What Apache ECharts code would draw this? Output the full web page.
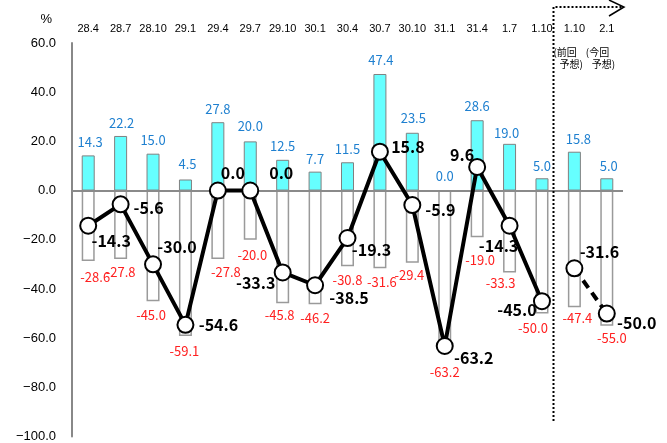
<!DOCTYPE html>
<html><head><meta charset="utf-8">
<script src="https://cdn.jsdelivr.net/npm/echarts@6/dist/echarts.min.js"></script>
<style>html,body{margin:0;padding:0;background:#fff}#c{width:667px;height:443px}</style>
</head><body><div id="c"></div>
<script>
// ---- data ----
const categories = ['28.4','28.7','28.10','29.1','29.4','29.7','29.10','30.1','30.4','30.7','30.10','31.1','31.4','1.7','1.10','1.10','2.1'];
const forecastNotes = [null,null,null,null,null,null,null,null,null,null,null,null,null,null,null,['(前回','予想)'],['(今回','予想)']];
const upValues = [14.3,22.2,15.0,4.5,27.8,20.0,12.5,7.7,11.5,47.4,23.5,0.0,28.6,19.0,5.0,15.8,5.0];
const downValues = [-28.6,-27.8,-45.0,-59.1,-27.8,-20.0,-45.8,-46.2,-30.8,-31.6,-29.4,-63.2,-19.0,-33.3,-50.0,-47.4,-55.0];
const diValues = [-14.3,-5.6,-30.0,-54.6,0.0,0.0,-33.3,-38.5,-19.3,15.8,-5.9,-63.2,9.6,-14.3,-45.0,null,null];
const diForecast = [null,null,null,null,null,null,null,null,null,null,null,null,null,null,null,-31.6,-50.0];
const yMin = -100, yMax = 60, yStep = 20;

// ---- label styling offsets (presentation only) ----
const upOff = [[2,0],[1,1],[0,0],[2,-2],[0,0],[0,-2],[0,0],[0,1],[0,0],[1,0],[1,-1],[0,-1],[0,-1],[-3,3],[0,1],[4,1],[2,1]];
const downOff = [[7,3],[0,0],[-2,0],[-1,2],[8,0],[2,2],[-3,-2],[0,0],[0,0],[2,0],[-3,-1],[0,13],[3,9],[-9,-3],[-9,1],[3,-3],[5,-1]];
const lineOff = [[23,15],[28,4],[24,-17],[33,0],[15,-18],[31,-18],[-27,10],[34,13],[24,12],[28,-5],[28,5],[29,12],[-15,-12],[-11,20],[-25,9],[25,-16],[30,9]];

const fmt = v => (v == null ? '' : Number(v).toFixed(1));
const dataFont = '"Noto Sans CJK JP", sans-serif';
const axisFont = '"Liberation Sans", Arial, sans-serif';

const chart = echarts.init(document.getElementById('c'), null, {renderer: 'canvas'});

const lineLabel = i => ({show: true, position: 'inside', align: 'center', verticalAlign: 'middle',
  offset: lineOff[i], color: '#000', fontWeight: 'bold', fontSize: 16, fontFamily: dataFont,
  formatter: p => fmt(p.value)});

const option = {
  animation: false,
  backgroundColor: '#fff',
  grid: {left: 72, right: 44, top: 43, bottom: 6, containLabel: false},
  xAxis: [{
    type: 'category', data: categories, position: 'top',
    axisLine: {show: false}, axisTick: {show: false}, splitLine: {show: false},
    axisLabel: {interval: 0, color: '#000', fontSize: 11, fontFamily: axisFont, margin: 9}
  }, {
    type: 'category', data: categories, position: 'top',
    axisLine: {show: false}, axisTick: {show: false}, splitLine: {show: false},
    axisLabel: {interval: 0, inside: true, margin: 3, color: '#000', fontSize: 10,
      padding: [0, 10, 0, 0],
      formatter: (v, i) => forecastNotes[i] ? '{a|' + forecastNotes[i][0] + '}\n{b|' + forecastNotes[i][1] + '}' : '',
      rich: {
        a: {width: 32, align: 'left', fontSize: 10, lineHeight: 12, color: '#000', fontFamily: dataFont},
        b: {width: 26, align: 'left', fontSize: 10, lineHeight: 12, color: '#000', fontFamily: dataFont, padding: [0, 0, 0, 6]}
      }}
  }],
  yAxis: {
    type: 'value', min: yMin, max: yMax, interval: yStep,
    name: '%', nameLocation: 'end', nameGap: 17,
    nameTextStyle: {color: '#000', fontSize: 13, align: 'right', padding: [0, 20, 0, 0], fontFamily: axisFont},
    axisLine: {show: true, lineStyle: {color: '#888', width: 2}},
    axisTick: {show: false}, splitLine: {show: false},
    axisLabel: {color: '#000', fontSize: 13, margin: 16, fontFamily: axisFont,
      formatter: v => v.toFixed(1).replace('-', '\u2212')}
  },
  series: [
    {
      type: 'bar', name: 'up', barWidth: 13, barGap: '-100%', z: 2,
      itemStyle: {color: '#66FFFF', borderColor: '#808080', borderWidth: 1},
      data: upValues.map((v, i) => ({value: v, label: {offset: upOff[i]}})),
      label: {show: true, position: 'top', distance: 7, color: '#1F80D0', fontSize: 13, fontFamily: dataFont,
        formatter: p => fmt(p.value)},
      markLine: {silent: true, symbol: 'none', label: {show: false}, z: 3,
        lineStyle: {color: '#8a8a8a', width: 2, type: 'solid'}, data: [{yAxis: 0}]}
    },
    {
      type: 'bar', name: 'down', barWidth: 13, barGap: '-100%', z: 2,
      itemStyle: {color: '#ffffff', borderColor: '#9a9a9a', borderWidth: 1.5},
      data: downValues.map((v, i) => ({value: v, label: {offset: downOff[i]}})),
      label: {show: true, position: 'bottom', distance: 7, color: '#FF2020', fontSize: 13, fontFamily: dataFont,
        formatter: p => fmt(p.value)}
    },
    {
      type: 'line', name: 'di', z: 5, symbol: 'circle', symbolSize: 16, connectNulls: false,
      lineStyle: {color: '#000', width: 4},
      itemStyle: {color: '#fff', borderColor: '#000', borderWidth: 2},
      data: diValues.map((v, i) => ({value: v, label: lineLabel(i)}))
    },
    {
      type: 'line', name: 'forecast', z: 5, symbol: 'circle', symbolSize: 16, connectNulls: false,
      lineStyle: {color: '#000', width: 4, type: [9, 6]},
      itemStyle: {color: '#fff', borderColor: '#000', borderWidth: 2},
      data: diForecast.map((v, i) => ({value: v, label: lineLabel(i)}))
    }
  ]
};
chart.setOption(option);

// decorative divider between actual and forecast columns
const xa = chart.convertToPixel({xAxisIndex: 0}, 14);
const xb = chart.convertToPixel({xAxisIndex: 0}, 15);
const xd = Math.round(xa + (xb - xa) * 0.33) + 0.5;
const yTop = 7, yBot = 421, xEnd = 623;
chart.setOption({
  graphic: [
    {type: 'polyline', silent: true, z: 10,
      shape: {points: [[xd, yBot], [xd, yTop], [xEnd, yTop]]},
      style: {stroke: '#000', lineWidth: 2, lineDash: [2, 2], fill: null}},
    {type: 'polyline', silent: true, z: 10,
      shape: {points: [[xEnd - 14, yTop - 7], [xEnd + 1, yTop], [xEnd - 14, yTop + 9]]},
      style: {stroke: '#000', lineWidth: 1.5, fill: null}}
  ]
});
</script>
</body></html>
